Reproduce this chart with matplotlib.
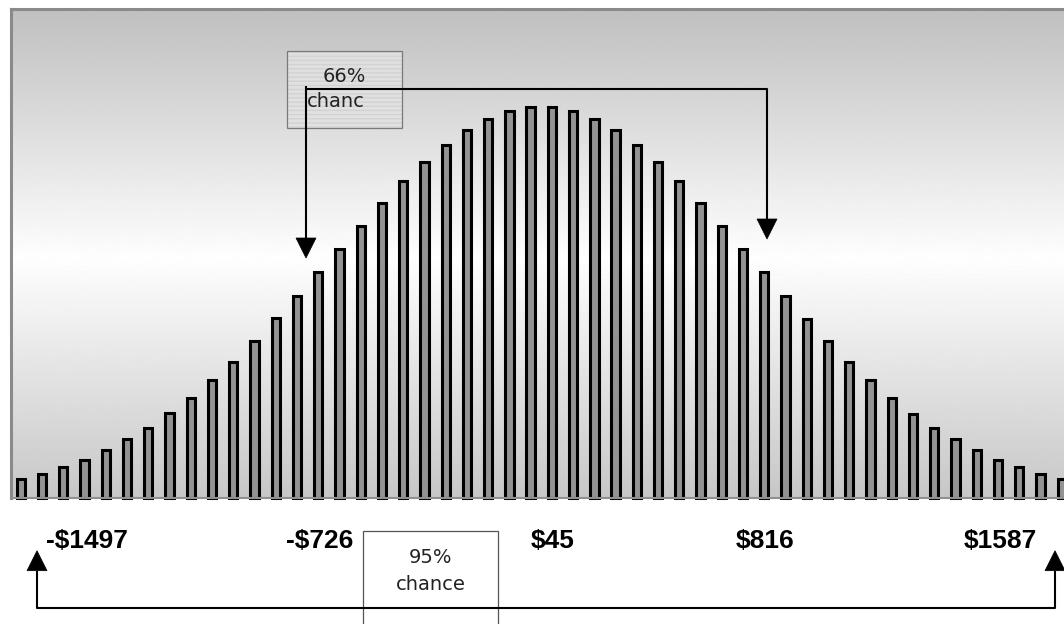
import numpy as np
import matplotlib
matplotlib.use("Agg")
import matplotlib.pyplot as plt
from matplotlib.patches import Rectangle, Polygon

# Distribution of outcomes: 50 bins, relative frequency per bin
bins = list(range(50))
freq = [19.3, 24.3, 31.3, 38.3, 48.0, 59.0, 70.3, 84.7, 100.3, 118.0,
        136.3, 157.3, 179.7, 202.0, 226.0, 249.3, 272.3, 295.3, 317.0, 336.0,
        353.3, 368.3, 379.0, 387.0, 391.3, 390.7, 386.7, 379.0, 368.0, 353.0,
        336.0, 316.7, 295.3, 272.0, 249.0, 225.7, 202.0, 179.3, 157.0, 135.7,
        117.7, 99.7, 84.3, 70.0, 58.7, 47.7, 38.0, 30.7, 24.0, 19.0]

value_labels = ["-$1497", "-$726", "$45", "$816", "$1587"]
value_label_x = [45.7, 286.0, 531.0, 736.0, 964.0]   # left edge, px

W, H = 1064, 624
fig = plt.figure(figsize=(W / 100, H / 100), dpi=100)
fig.patch.set_facecolor("white")

# main plotting area (pixel box: x 11..1071.5, y 8.5..498)
left, right, top, bottom = 11.0, 1071.5, 8.5, 498.0
ax = fig.add_axes([left / W, (H - bottom) / H, (right - left) / W, (bottom - top) / H])
ax.set_xlim(-0.46, 49.46)
ax.set_ylim(0, bottom - top)

# vertical gradient: grey at the top, white in the middle, grey at the bottom
ys = np.linspace(0, 1, 400)
stops_y = [0.0, 0.49, 1.0]
stops_v = [0.78, 0.995, 0.75]
grad = np.interp(ys, stops_y, stops_v)[:, None]
ax.imshow(grad, extent=[-0.46, 49.46, 0, bottom - top], origin="lower",
          aspect="auto", cmap="gray", vmin=0, vmax=1, zorder=0,
          interpolation="bilinear")

ax.bar(bins, freq, width=0.39, color="#939393", edgecolor="black",
       linewidth=2.2, zorder=2, clip_on=False)

ax.set_xticks([])
ax.set_yticks([])
for side in ("left", "top"):
    ax.spines[side].set_color("#8a8a8a")
    ax.spines[side].set_linewidth(2.2)
ax.spines["bottom"].set_color("#909090")
ax.spines["bottom"].set_linewidth(1.5)
ax.spines["right"].set_visible(False)

# overlay in pixel coordinates for the annotations
ov = fig.add_axes([0, 0, 1, 1], zorder=5)
ov.set_xlim(0, W)
ov.set_ylim(H, 0)
ov.axis("off")
ov.patch.set_alpha(0)

box_font = dict(family="DejaVu Sans", fontsize=14, color="#222222")

# 66% box (striped light grey)
ov.add_patch(Rectangle((286.7, 51), 115.6, 76.7, facecolor="#e3e3e3",
                       edgecolor="none", alpha=0.85, zorder=1))
ov.add_patch(Rectangle((286.7, 51), 115.6, 76.7, facecolor="none",
                       edgecolor="#d2d2d2", hatch="----", linewidth=0, zorder=1.1))
ov.add_patch(Rectangle((286.7, 51), 115.6, 76.7, facecolor="none",
                       edgecolor="#7a7a7a", linewidth=0.9, zorder=1.2))
ov.text(344, 82.3, "66%", ha="center", va="baseline", zorder=3, **box_font)
ov.text(307, 107.3, "chanc", ha="left", va="baseline", zorder=3, **box_font)

# 95% box
ov.add_patch(Rectangle((363.3, 531), 135, 110, facecolor="white",
                       edgecolor="#555555", linewidth=0.9, zorder=1))
ov.text(430.5, 563.3, "95%", ha="center", va="baseline", zorder=3, **box_font)
ov.text(430.5, 590, "chance", ha="center", va="baseline", zorder=3, **box_font)

line_kw = dict(color="black", linewidth=1.5, zorder=4, solid_capstyle="butt")


def head(x, tip_y, base_y, half=10):
    ov.add_patch(Polygon([(x - half, base_y), (x + half, base_y), (x, tip_y)],
                         closed=True, facecolor="black", edgecolor="black",
                         linewidth=0.5, zorder=4))


# 66% connectors
ov.plot([306, 306], [86, 239], **line_kw)
ov.plot([306, 767, 767], [89, 89, 220], **line_kw)
head(306, 258, 238)
head(767, 239, 219)

# 95% connector
ov.plot([37, 37, 1055, 1055], [571, 607.7, 607.7, 571], **line_kw)
head(37, 550.7, 570.7)
head(1055, 550.7, 570.7)

# dollar values under the bars
for lab, x in zip(value_labels, value_label_x):
    ov.text(x, 548, lab, ha="left", va="baseline", fontsize=19,
            fontweight="bold", family="Liberation Sans", color="black", zorder=3)

fig.savefig("out.png", dpi=100, facecolor="white")
